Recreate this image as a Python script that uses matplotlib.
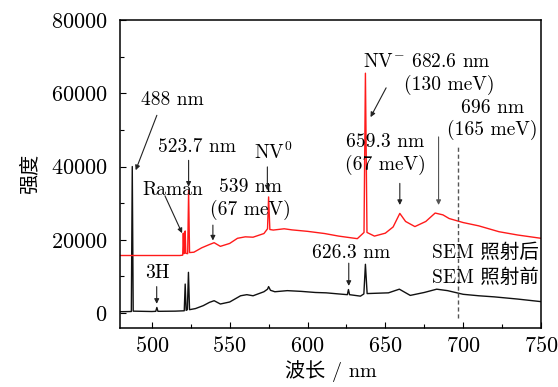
import matplotlib
matplotlib.use("Agg")
import matplotlib.pyplot as plt
from matplotlib.ticker import MultipleLocator

plt.rcParams['font.family'] = ['cmr10', 'Noto Sans CJK SC', 'DejaVu Sans']
plt.rcParams['mathtext.fontset'] = 'cm'
plt.rcParams['axes.formatter.use_mathtext'] = True
plt.rcParams['axes.unicode_minus'] = False

# spectrum before SEM irradiation (black)
black_wl = [480, 486.8, 487.4, 488.0, 500, 502.5, 503.2, 503.9, 515, 520.8, 521.4, 522.0,
            522.8, 523.5, 524.2, 528, 533, 537, 540, 544, 550, 557, 561, 565, 572, 574.3,
            575, 576.2, 579, 587, 596, 605, 612, 620, 625.6, 626.3, 627, 634, 636.2, 637.2,
            638.3, 645, 652, 659, 666, 675, 683, 690, 700, 710, 720, 735, 750]
black_int = [350, 400, 40000, 500, 400, 450, 1500, 450, 500, 600, 7900, 700,
             900, 11100, 900, 1200, 2000, 2900, 3350, 2450, 3000, 4700, 5000, 4700, 5800, 6500,
             7200, 6200, 5800, 6100, 5900, 5600, 5500, 5200, 5000, 6400, 5000, 4600, 5200, 13300,
             5300, 5400, 5500, 6500, 4800, 5600, 6500, 6100, 5100, 4700, 4400, 3800, 3100]

# spectrum after SEM irradiation (red)
red_wl = [480, 518, 519.8, 520.2, 520.6, 521.0, 521.4, 521.8, 523.0, 523.6, 524.2, 527, 532,
          537, 540, 544, 550, 555, 560, 565, 572, 574.3, 575, 575.8, 578, 585, 590, 600, 611,
          620, 632, 636.3, 637.2, 638.2, 643, 650, 655, 659.3, 663, 669, 676, 682, 687, 691,
          700, 710, 723, 735, 750]
red_int = [15700, 15700, 15800, 21800, 16200, 16400, 22400, 16300, 16200, 33500, 16500, 16600, 17800,
           18700, 19200, 18200, 19000, 20400, 20800, 20700, 21700, 23000, 31700, 22800, 22650, 23000, 22700, 22300, 21700,
           21000, 20300, 22000, 65500, 22000, 21000, 21800, 23500, 27200, 25000, 23600, 25000, 27300, 26800, 25800,
           24700, 23800, 22200, 21300, 20400]

fig = plt.figure(figsize=(5.58, 3.87), dpi=100)
ax = fig.add_axes([0.215, 0.1525, 0.7545, 0.7955])

ax.plot(black_wl, black_int, color='#111111', lw=1.0)
ax.plot(red_wl, red_int, color='#ff1a1a', lw=1.0)
ax.plot([697, 697], [-1400, 45400], color='#555555', lw=1.0, ls=(0, (3, 2)))

ax.set_xlim(479.5, 750)
ax.set_ylim(-4100, 80000)
ax.xaxis.set_major_locator(MultipleLocator(50))
ax.xaxis.set_minor_locator(MultipleLocator(25))
ax.yaxis.set_major_locator(MultipleLocator(20000))
ax.yaxis.set_minor_locator(MultipleLocator(10000))
ax.tick_params(which='both', direction='in', labelsize=16, width=0.8)
ax.tick_params(which='major', length=4)
ax.tick_params(which='minor', length=3)
ax.tick_params(axis='y', pad=9)
ax.tick_params(axis='x', pad=6)
for s in ax.spines.values():
    s.set_linewidth(1.1)

ax.set_xlabel('波长 / nm', fontsize=14.5, labelpad=3)
ax.set_ylabel('强度', fontsize=14.5, labelpad=8)

fs = 14
ap = dict(arrowstyle='-|>', color='#222222', lw=0.8, mutation_scale=7, shrinkA=0, shrinkB=0)

def arrow(tail, head, **kw):
    props = dict(ap)
    props.update(kw)
    ax.annotate('', xy=head, xytext=tail, arrowprops=props)

ax.text(513, 58100, '488 nm', fontsize=fs, ha='center', va='center')
arrow((503.2, 54000), (489.6, 39000))

ax.text(529, 45300, '523.7 nm', fontsize=fs, ha='center', va='center')
arrow((523.6, 41700), (523.6, 34500))

ax.text(513.6, 33600, 'Raman', fontsize=fs, ha='center', va='center')
arrow((508.4, 32000), (519.4, 21800))

ax.text(563.4, 34400, '539 nm', fontsize=fs, ha='center', va='center')
ax.text(563.4, 28100, '(67 meV)', fontsize=fs, ha='center', va='center')
arrow((539.2, 24000), (539.2, 19800))

ax.text(577.6, 44000, r'NV$^0$', fontsize=fs, ha='center', va='center')
arrow((574.2, 39900), (574.2, 33500))

ax.text(676.6, 68600, r'NV$^{-}$ 682.6 nm', fontsize=fs, ha='center', va='center')
ax.text(691, 62200, '(130 meV)', fontsize=fs, ha='center', va='center')
arrow((650.5, 61500), (640.5, 53500))

ax.text(650, 46700, '659.3 nm', fontsize=fs, ha='center', va='center')
ax.text(650, 40400, '(67 meV)', fontsize=fs, ha='center', va='center')
arrow((659.3, 35400), (659.3, 29500))

ax.text(719, 56100, '696 nm', fontsize=fs, ha='center', va='center')
ax.text(719, 49900, '(165 meV)', fontsize=fs, ha='center', va='center')
arrow((684.2, 48100), (684.2, 29500), color='#555555')

ax.text(503.6, 10800, '3H', fontsize=fs, ha='center', va='center')
arrow((503.1, 7200), (503.1, 2500))

ax.text(628, 16450, '626.3 nm', fontsize=fs, ha='center', va='center')
arrow((626.5, 13600), (626.5, 7400))

ax.text(748.5, 16450, 'SEM 照射后', fontsize=fs, ha='right', va='center')
ax.text(748.5, 9740, 'SEM 照射前', fontsize=fs, ha='right', va='center')

fig.savefig('out.png', dpi=100)
